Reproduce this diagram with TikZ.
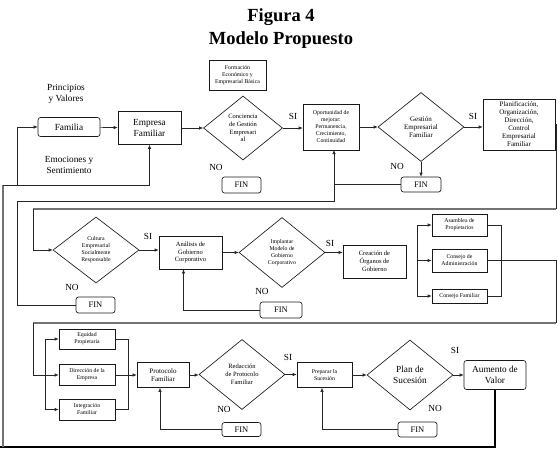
\documentclass[tikz,border=0pt]{standalone}
\usepackage{fontspec}
\setmainfont{Liberation Serif}
\usetikzlibrary{shapes.geometric,arrows.meta}
\begin{document}
\begin{tikzpicture}[x=1pt,y=-1pt,
  ln/.style={draw=black!85, line width=0.65pt},
  arr/.style={ln, -{Latex[length=4pt,width=3.5pt]}},
  loopln/.style={draw=black!55, line width=1.3pt},
  thickln/.style={draw=black, line width=1.8pt},
  bx/.style 2 args={rectangle, draw=black!90, line width=0.65pt, minimum width=#1pt, minimum height=#2pt, inner sep=0.5pt, align=center},
  rbx/.style 2 args={bx={#1}{#2}, rounded corners=2.5pt},
  dm/.style 2 args={diamond, draw=black!90, line width=0.65pt, minimum width=#1pt, minimum height=#2pt, inner sep=0pt, align=center},
  lbl/.style={align=center, inner sep=0pt},
  tA/.style={font=\fontsize{9.3}{11}\selectfont},
  tB/.style={font=\fontsize{8.5}{10}\selectfont},
  tC/.style={font=\fontsize{7}{8}\selectfont},
  tD/.style={font=\fontsize{6.5}{7.8}\selectfont},
  tE/.style={font=\fontsize{5.8}{7}\selectfont},
  tF/.style={font=\fontsize{5.8}{7}\selectfont},
  ttl/.style={font=\fontsize{18.5}{20}\selectfont\bfseries, inner sep=0pt},
]
\useasboundingbox (0,0) rectangle (558,450);

% titles
\node[ttl] (t1) at (281,17) {Figura 4};
\node[ttl] (t2) at (281,40) {Modelo Propuesto};

% row 1
\node[lbl,tA] (princ) at (66,94) {Principios\\y Valores};
\node[rbx={62}{19},tA] (familia) at (69,127) {Familia};
\node[bx={63}{33},tA] (empresa) at (149.5,128) {Empresa\\Familiar};
\node[lbl,tA] (emoc) at (69,165) {Emociones y\\Sentimiento};
\node[bx={57}{30},tE] (form) at (237.5,75) {Formación\\Económico y\\Empresarial Básica};
\node[dm={79}{64},tD] (d1) at (243,128) {Conciencia\\de Gestión\\Empresari\\al};
\node[lbl,tA] (no1) at (216,167) {NO};
\node[rbx={39}{16},tB] (fin1) at (241.5,185) {FIN};
\node[lbl,tA] (si1) at (293,116) {SI};
\node[bx={56}{46},tE] (oport) at (331,127) {Oportunidad de\\mejorar:\\Permanencia,\\Crecimiento,\\Continuidad};
\node[dm={86}{69},tC] (d2) at (421,127) {Gestión\\Empresarial\\Familiar};
\node[lbl,tA] (si2) at (473,116) {SI};
\node[bx={72}{51},tC] (plan) at (519,124.5) {Planificación,\\Organización,\\Dirección,\\Control\\Empresarial\\Familiar};
\node[lbl,tA] (no2) at (397,166) {NO};
\node[rbx={40}{15},tB] (fin2) at (421,184.5) {FIN};

% row 2
\node[dm={86}{66},tF] (d3) at (96,250) {Cultura\\Empresarial\\Socialmente\\Responsable};
\node[lbl,tA] (si3) at (148,236) {SI};
\node[lbl,tA] (no3) at (72,287) {NO};
\node[rbx={39}{16},tB] (fin3) at (95.5,305) {FIN};
\node[bx={63}{33},tD] (anal) at (190.5,252.5) {Análisis de\\Gobierno\\Corporativo};
\node[dm={86}{70},tF] (d4) at (282,252.5) {Implantar\\Modelo de\\Gobierno\\Corporativo};
\node[lbl,tA] (si4) at (330,243) {SI};
\node[lbl,tA] (no4) at (262,291) {NO};
\node[rbx={42}{16},tB] (fin4) at (281,310) {FIN};
\node[bx={63}{33},tD] (crea) at (374.5,261.5) {Creación de\\Órganos de\\Gobierno};
\node[bx={55}{22},tF] (asam) at (459.5,225) {Asamblea de\\Propietarios};
\node[bx={55}{23},tF] (cadm) at (459.5,260.5) {Consejo de\\Administración};
\node[bx={55}{14},tF] (cfam) at (459.5,296) {Consejo Familiar};

% row 3
\node[bx={56}{20},tF] (equi) at (87,339) {Equidad\\Propietaria};
\node[bx={56}{21},tF] (dire) at (87,375) {Dirección de la\\Empresa};
\node[bx={56}{21},tF] (integ) at (87,409.5) {Integración\\Familiar};
\node[bx={52}{25},tC] (prot) at (163,375) {Protocolo\\Familiar};
\node[dm={86}{70},tD] (d5) at (242,374.5) {Redacción\\de Protocolo\\Familiar};
\node[lbl,tA] (no5) at (224,409) {NO};
\node[rbx={39}{14},tB] (fin5) at (241.5,429.5) {FIN};
\node[lbl,tA] (si5) at (288,357) {SI};
\node[bx={55}{25},tF] (prep) at (324.5,375) {Preparar la\\Sucesión};
\node[dm={86}{70},tA] (d6) at (410,375) {Plan de\\Sucesión};
\node[lbl,tA] (si6) at (455,350) {SI};
\node[lbl,tA] (no6) at (435,408) {NO};
\node[rbx={62}{29},tA] (aum) at (495,375) {Aumento de\\Valor};
\node[rbx={39}{15},tB] (fin6) at (417.5,429.5) {FIN};

% coordinates for bends
\coordinate (cB0) at (0,447);
\coordinate (cBL) at (3,447);
\coordinate (cLt) at (3,185);
\coordinate (cFa) at (17,185);
\coordinate (jO) at (334,150);
\coordinate (cF3) at (17,201);
\coordinate (cR1) at (556,209);
\coordinate (cL1) at (33,209);
\coordinate (cR2) at (556,323);
\coordinate (cL2) at (33,323);
\coordinate (br1) at (417,225);
\coordinate (br2) at (417,296);
\coordinate (bl1) at (45,339);
\coordinate (bl2) at (45,409.5);

% main feedback loop
\draw[thickln] (aum.south) |- (cB0);
\draw[loopln] (cBL) -- (cLt);
\draw[arr] (cLt) -| (empresa.south);
\draw[arr] (cFa) |- (familia.west);

% row 1 flow
\draw[arr] (familia) -- (empresa);
\draw[arr] (empresa) -- (d1);
\draw[arr] (d1.east) -- (d1.east -| oport.west);
\draw[arr] (oport.east) -- (oport.east -| d2.west);
\draw[arr] (d2.east) -- (d2.east -| plan.west);
\draw[arr] (d2.south) -- (fin2.north);
\draw[ln] (fin2.west) -- (fin2.west -| jO);
\draw[arr] (fin3.west) -| (cF3) -| (jO);

% to row 2
\draw[ln] (plan.east) -| (cR1);
\draw[loopln] (cR1) -- (cL1);
\draw[arr] (cL1) |- (d3.west);

% row 2 flow
\draw[arr] (d3.east) -- (d3.east -| anal.west);
\draw[arr] (anal.east) -- (anal.east -| d4.west);
\draw[arr] (d4.east) -- (d4.east -| crea.west);
\draw[arr] (fin4.west) -| ([xshift=-7pt]anal.south);
\draw[ln] (br1) -- (br2);
\draw[arr] (br1) -- (asam.west);
\draw[arr] (cadm.west -| br1) -- (cadm.west);
\draw[arr] (br2) -- (cfam.west);
\draw[ln] (asam.east) -- ++(14,0) |- (cfam.east);

% to row 3
\draw[ln] (cadm.east) -| (cR2);
\draw[loopln] (cR2) -- (cL2);
\draw[ln] (cL2) |- (dire.west -| bl1);
\draw[ln] (bl1) -- (bl2);
\draw[arr] (bl1) -- (equi.west);
\draw[arr] (dire.west -| bl1) -- (dire.west);
\draw[arr] (bl2) -- (integ.west);
\draw[ln] (equi.east) -- ++(13,0) |- (integ.east);

% row 3 flow
\draw[arr] (dire) -- (prot);
\draw[arr] (prot.east) -- (prot.east -| d5.west);
\draw[arr] (d5.east) -- (d5.east -| prep.west);
\draw[arr] (prep.east) -- (prep.east -| d6.west);
\draw[arr] (d6.east) -- (d6.east -| aum.west);
\draw[arr] (fin5.west) -| ([xshift=-3pt]prot.south);
\draw[arr] (fin6.west) -| ([xshift=-2.5pt]prep.south);
\end{tikzpicture}
\end{document}
